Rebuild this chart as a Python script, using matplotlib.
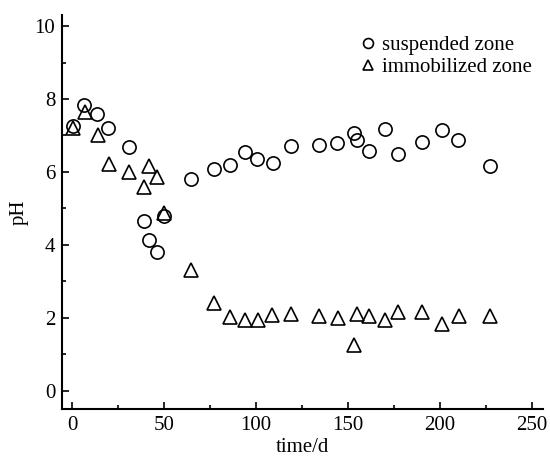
import matplotlib
matplotlib.use("Agg")
import matplotlib.pyplot as plt
from matplotlib.ticker import MultipleLocator

plt.rcParams['font.family'] = ['Liberation Serif', 'DejaVu Serif']

sus_t = [0.5, 6.5, 13.6, 19.7, 30.8, 38.8, 41.8, 46.0, 50.0, 64.7, 77.2, 85.7, 94.0, 100.7,
         109.0, 118.8, 134.0, 144.0, 153.3, 155.0, 161.2, 170.0, 177.4, 190.2, 201.3, 210.1, 227.2]
sus_ph = [7.26, 7.83, 7.60, 7.20, 6.68, 4.66, 4.14, 3.80, 4.80, 5.80, 6.07, 6.18, 6.54, 6.36,
          6.25, 6.72, 6.74, 6.78, 7.08, 6.88, 6.58, 7.17, 6.48, 6.83, 7.14, 6.87, 6.17]

imm_t = [0.5, 6.9, 13.8, 19.9, 31.0, 39.0, 41.7, 46.0, 50.0, 64.8, 77.2, 85.9, 94.0, 101.0,
         108.9, 119.0, 134.4, 144.4, 153.3, 155.0, 161.2, 170.3, 177.4, 190.2, 201.3, 210.3, 227.3]
imm_ph = [7.20, 7.65, 7.01, 6.21, 6.01, 5.58, 6.17, 5.87, 4.87, 3.32, 2.42, 2.01, 1.95, 1.94,
          2.08, 2.10, 2.04, 1.99, 1.26, 2.11, 2.04, 1.93, 2.15, 2.16, 1.84, 2.04, 2.05]

fig = plt.figure(figsize=(5.5, 4.58), dpi=100)
ax = fig.add_axes([0.113, 0.107, 0.874, 0.86])

ax.plot(sus_t, sus_ph, linestyle='none', marker='o', markersize=9.5, markerfacecolor='none',
        markeredgecolor='black', markeredgewidth=1.2, label='suspended zone')
ax.plot(imm_t, imm_ph, linestyle='none', marker='^', markersize=10.5, markerfacecolor='none',
        markeredgecolor='black', markeredgewidth=1.2, label='immobilized zone')

ax.set_xlim(-5.5, 256)
ax.set_ylim(-0.5, 10.3)
ax.xaxis.set_major_locator(MultipleLocator(50))
ax.xaxis.set_minor_locator(MultipleLocator(25))
ax.yaxis.set_major_locator(MultipleLocator(2))
ax.yaxis.set_minor_locator(MultipleLocator(1))
ax.tick_params(which='both', direction='in', labelsize=15, width=1.2)
ax.tick_params(which='major', length=5, pad=5)
ax.tick_params(which='minor', length=3)
for s in ['top', 'right']:
    ax.spines[s].set_visible(False)
for s in ['left', 'bottom']:
    ax.spines[s].set_linewidth(1.5)

ax.set_xlabel('time/d', fontsize=15, labelpad=2)
ax.set_ylabel('pH', fontsize=15, labelpad=4)

ax.legend(loc='upper right', bbox_to_anchor=(1.004, 0.98), frameon=False, fontsize=15,
          markerscale=0.75, handlelength=0.6, handletextpad=0.4, labelspacing=0.12,
          borderaxespad=0.2)

fig.savefig('out.png', dpi=100)
